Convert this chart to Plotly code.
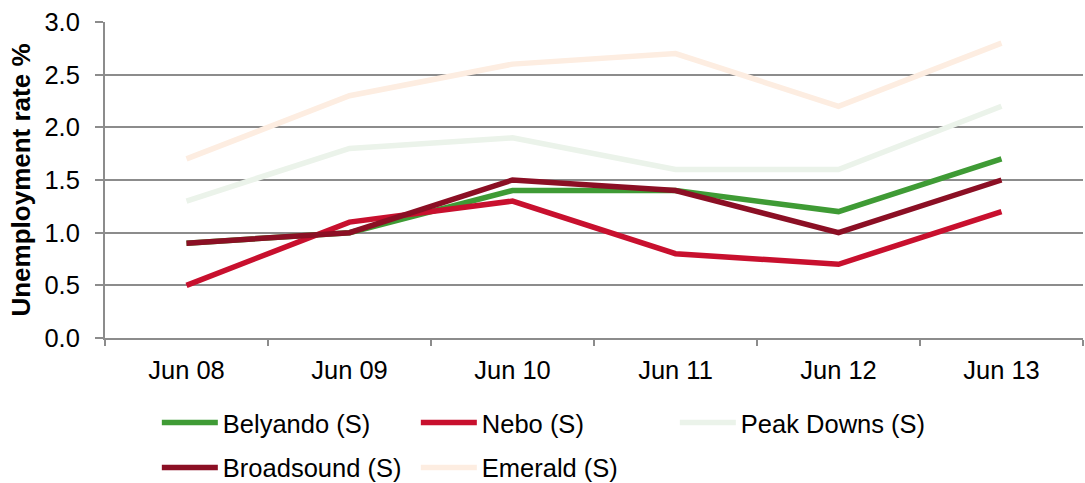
import plotly.graph_objects as go

periods = ["Jun 08", "Jun 09", "Jun 10", "Jun 11", "Jun 12", "Jun 13"]

belyando = [0.9, 1.0, 1.4, 1.4, 1.2, 1.7]
nebo = [0.5, 1.1, 1.3, 0.8, 0.7, 1.2]
peak_downs = [1.3, 1.8, 1.9, 1.6, 1.6, 2.2]
broadsound = [0.9, 1.0, 1.5, 1.4, 1.0, 1.5]
emerald = [1.7, 2.3, 2.6, 2.7, 2.2, 2.8]

# (name, values, colour, legend row)
series = [
    ("Belyando (S)", belyando, "#3f9b35", "legend"),
    ("Nebo (S)", nebo, "#c8102e", "legend"),
    ("Peak Downs (S)", peak_downs, "#ebf3ea", "legend"),
    ("Broadsound (S)", broadsound, "#8b0f24", "legend2"),
    ("Emerald (S)", emerald, "#fdede1", "legend2"),
]

FONT = "Liberation Sans, Arial, sans-serif"
FS = 25.5

fig = go.Figure()
for name, values, color, leg in series:
    fig.add_trace(go.Scatter(
        x=periods, y=values, name=name, mode="lines",
        line=dict(color=color, width=5.5), legend=leg,
    ))

legend_common = dict(
    orientation="h", xanchor="left", yanchor="middle",
    entrywidth=188, entrywidthmode="pixels",
    font=dict(size=FS), itemwidth=56, bgcolor="rgba(0,0,0,0)",
)

fig.update_layout(
    width=1085, height=483,
    margin=dict(l=105, r=2, t=22, b=145, autoexpand=False),
    plot_bgcolor="white", paper_bgcolor="white",
    font=dict(family=FONT, size=FS, color="black"),
    showlegend=True,
    legend=dict(x=0.053, y=-0.269, **legend_common),
    legend2=dict(x=0.053, y=-0.411, **legend_common),
    xaxis=dict(
        type="category", range=[-0.5, 5.5],
        showline=True, linecolor="#8c8c8c", linewidth=2,
        ticks="outside", tickson="boundaries", ticklen=6,
        tickcolor="#8c8c8c", tickwidth=2,
        showgrid=False, ticklabelstandoff=8,
    ),
    yaxis=dict(
        range=[0, 3.0], dtick=0.5, tickformat=".1f",
        showline=True, linecolor="#8c8c8c", linewidth=2,
        showgrid=True, gridcolor="#8c8c8c", gridwidth=2,
        ticks="outside", ticklen=8, tickcolor="#8c8c8c", tickwidth=2,
        zeroline=False, ticklabelstandoff=10,
        title=dict(text="<b>Unemployment rate %</b>", standoff=6,
                   font=dict(size=26)),
    ),
)

fig.write_html("out.html")
